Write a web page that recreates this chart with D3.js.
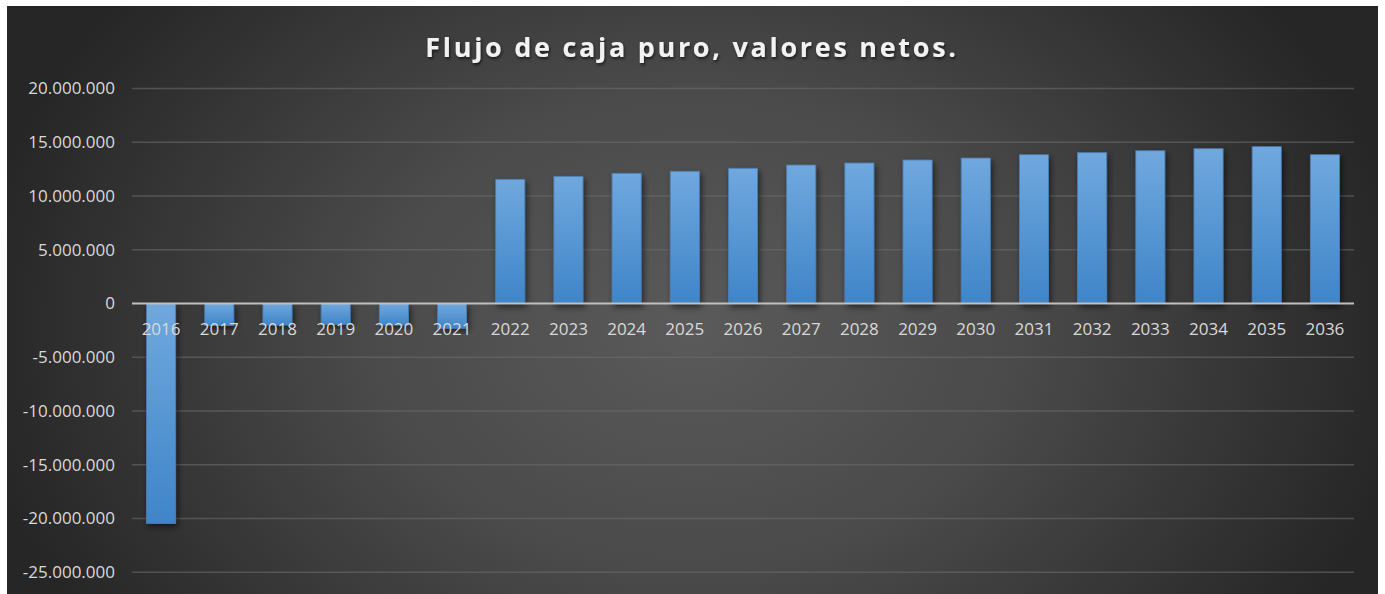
<!DOCTYPE html>
<html>
<head>
<meta charset="utf-8">
<script src="https://cdn.jsdelivr.net/npm/d3@7/dist/d3.min.js"></script>
<style>
  html, body { margin: 0; padding: 0; background: #ffffff; }
  svg { display: block; }
</style>
</head>
<body>
<svg id="chart" width="1385" height="594"></svg>
<script>
const title = "Flujo de caja puro, valores netos.";
const years = ["2016","2017","2018","2019","2020","2021","2022","2023","2024","2025","2026","2027","2028","2029","2030","2031","2032","2033","2034","2035","2036"];
const values = [-20450000, -2050000, -2000000, -1950000, -2000000, -2300000, 11550000, 11830000, 12110000, 12300000, 12580000, 12880000, 13070000, 13350000, 13530000, 13840000, 14030000, 14210000, 14400000, 14590000, 13840000];
const yTicks = [20000000, 15000000, 10000000, 5000000, 0, -5000000, -10000000, -15000000, -20000000, -25000000];

const svg = d3.select("#chart");
const box = {x: 7, y: 6, w: 1371, h: 590};
const plot = {left: 132, right: 1354, top: 88.5, bottom: 572.3};

const defs = svg.append("defs");
const bg = defs.append("radialGradient").attr("id", "bg")
  .attr("gradientUnits", "userSpaceOnUse")
  .attr("cx", 692).attr("cy", 330).attr("r", 720)
  .attr("gradientTransform", "translate(692,330) scale(1,0.75) translate(-692,-330)");
bg.append("stop").attr("offset", "0%").attr("stop-color", "#5a5a5a");
bg.append("stop").attr("offset", "45%").attr("stop-color", "#4a4a4a");
bg.append("stop").attr("offset", "100%").attr("stop-color", "#262626");

const barGrad = defs.append("linearGradient").attr("id", "barGrad")
  .attr("x1", 0).attr("y1", 0).attr("x2", 0).attr("y2", 1);
barGrad.append("stop").attr("offset", "0%").attr("stop-color", "#70a8de");
barGrad.append("stop").attr("offset", "100%").attr("stop-color", "#3f85c8");

const shadow = defs.append("filter").attr("id", "shadow")
  .attr("x", "-30%").attr("y", "-10%").attr("width", "160%").attr("height", "130%");
shadow.append("feDropShadow").attr("dx", 2).attr("dy", 3).attr("stdDeviation", 3)
  .attr("flood-color", "#000").attr("flood-opacity", 0.55);

const tshadow = defs.append("filter").attr("id", "tshadow")
  .attr("x", "-5%").attr("y", "-30%").attr("width", "110%").attr("height", "160%");
tshadow.append("feDropShadow").attr("dx", 1).attr("dy", 2).attr("stdDeviation", 1.5)
  .attr("flood-color", "#000").attr("flood-opacity", 0.6);

svg.append("rect").attr("x", box.x).attr("y", box.y).attr("width", box.w).attr("height", box.h)
  .attr("fill", "url(#bg)");

const x = d3.scaleBand().domain(years).range([plot.left, plot.right])
  .paddingInner(0.5).paddingOuter(0.25);
const y = d3.scaleLinear().domain([-25000000, 20000000]).range([plot.bottom, plot.top]);

const fmt = v => d3.format(",")(v).replace(/,/g, ".").replace("−", "-");

// gridlines
svg.append("g").selectAll("line").data(yTicks.filter(d => d !== 0)).join("line")
  .attr("x1", plot.left).attr("x2", plot.right)
  .attr("y1", d => y(d)).attr("y2", d => y(d))
  .attr("stroke", "#6a6a6a").attr("stroke-opacity", 0.6).attr("stroke-width", 1.5);

// y labels
svg.append("g").selectAll("text").data(yTicks).join("text")
  .attr("x", 115).attr("y", d => y(d)).attr("dy", "0.35em")
  .attr("text-anchor", "end")
  .attr("font-family", "'Open Sans', sans-serif").attr("font-size", 17)
  .attr("fill", "#d9d9d9")
  .text(d => d === 0 ? "0" : fmt(d));

// bars
svg.append("g").selectAll("rect").data(years).join("rect")
  .attr("x", d => x(d)).attr("width", x.bandwidth())
  .attr("y", (d, i) => Math.min(y(values[i]), y(0)))
  .attr("height", (d, i) => Math.abs(y(values[i]) - y(0)))
  .attr("fill", "url(#barGrad)")
  .attr("stroke", "#4a7fb8").attr("stroke-width", 0.8)
  .attr("filter", "url(#shadow)");

// zero axis line
svg.append("line").attr("x1", plot.left).attr("x2", plot.right)
  .attr("y1", y(0)).attr("y2", y(0))
  .attr("stroke", "#c0c0c0").attr("stroke-width", 2);

// x labels
svg.append("g").selectAll("text").data(years).join("text")
  .attr("x", d => x(d) + x.bandwidth() / 2).attr("y", 335)
  .attr("text-anchor", "middle")
  .attr("font-family", "'Open Sans', sans-serif").attr("font-size", 17)
  .attr("fill", "#d9d9d9")
  .text(d => d);

// title
svg.append("text").attr("x", 692).attr("y", 57)
  .attr("text-anchor", "middle")
  .attr("font-family", "'Open Sans', sans-serif").attr("font-weight", "bold")
  .attr("font-size", 27).attr("letter-spacing", 2.7)
  .attr("fill", "#f2f2f2").attr("filter", "url(#tshadow)")
  .text(title);
</script>
</body>
</html>
